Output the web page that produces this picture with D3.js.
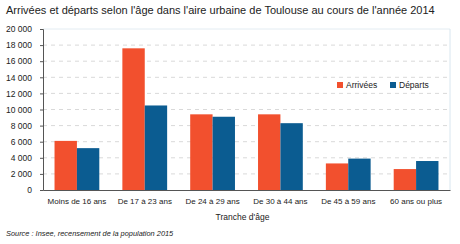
<!DOCTYPE html>
<html>
<head>
<meta charset="utf-8">
<script src="https://cdn.jsdelivr.net/npm/d3@7"></script>
<style>
  body { margin: 0; background: #fff; }
  svg { font-family: "Liberation Sans", Arial, sans-serif; }
</style>
</head>
<body>
<svg id="chart" width="460" height="244"></svg>
<script>
const categories = ["Moins de 16 ans", "De 17 à 23 ans", "De 24 à 29 ans", "De 30 à 44 ans", "De 45 à 59 ans", "60 ans ou plus"];
const arrivees = [6100, 17600, 9400, 9400, 3300, 2600];
const departs = [5200, 10500, 9100, 8300, 3900, 3600];
const series = ["Arrivées", "Départs"];
const colors = ["#f2502e", "#0b5c91"];
const yTicks = [0, 2000, 4000, 6000, 8000, 10000, 12000, 14000, 16000, 18000, 20000];

const margin = { top: 29, right: 10, bottom: 54, left: 43 };
const width = 460 - margin.left - margin.right;
const height = 244 - margin.top - margin.bottom;

const data = categories.map((c, i) => ({ cat: c, values: [arrivees[i], departs[i]] }));

const svgRoot = d3.select("#chart");

// Titre
svgRoot.append("text")
    .attr("x", 6)
    .attr("y", 14)
    .style("font-size", "11px")
    .style("fill", "#222")
    .text("Arrivées et départs selon l'âge dans l'aire urbaine de Toulouse au cours de l'année 2014");

const svg = svgRoot.append("g")
    .attr("transform", `translate(${margin.left}, ${margin.top})`);

const xScale = d3.scaleBand()
    .domain(categories)
    .range([0, width])
    .paddingInner(0.34)
    .paddingOuter(0.17);

const xSub = d3.scaleBand()
    .domain(series)
    .range([0, xScale.bandwidth()]);

const yScale = d3.scaleLinear()
    .domain([0, 20000])
    .range([height, 0]);

const fmt = d => d3.format(",")(d).replace(/,/g, " ");

// cadre
svg.append("line")
    .attr("x1", 0).attr("x2", width)
    .attr("y1", 0).attr("y2", 0)
    .attr("stroke", "#e3ecf2");
svg.append("line")
    .attr("x1", width).attr("x2", width)
    .attr("y1", 0).attr("y2", height)
    .attr("stroke", "#d8e6ef");

// grille
svg.append("g")
    .selectAll("line")
    .data(yTicks.filter(d => d > 0 && d < 20000))
    .enter()
    .append("line")
    .attr("x1", 0).attr("x2", width)
    .attr("y1", d => yScale(d)).attr("y2", d => yScale(d))
    .attr("stroke", "#d9d9d9")
    .attr("stroke-dasharray", "4,4");

// barres
const groups = svg.selectAll(".grp")
    .data(data)
    .enter()
    .append("g")
    .attr("transform", d => `translate(${xScale(d.cat)}, 0)`);

groups.selectAll("rect")
    .data(d => d.values.map((v, i) => ({ key: series[i], value: v, i: i })))
    .enter()
    .append("rect")
    .attr("x", d => xSub(d.key))
    .attr("y", d => yScale(d.value))
    .attr("width", xSub.bandwidth())
    .attr("height", d => height - yScale(d.value))
    .attr("fill", d => colors[d.i]);

// axes
const yAxis = d3.axisLeft(yScale).tickValues(yTicks).tickFormat(fmt).tickSize(3).tickPadding(8);
const gy = svg.append("g").call(yAxis);
gy.select(".domain").attr("stroke", "#555");
gy.selectAll(".tick line").attr("stroke", "#555");
gy.selectAll("text").style("font-size", "8.5px").style("fill", "#222");

const xAxis = d3.axisBottom(xScale).tickSize(0).tickPadding(8);
const gx = svg.append("g")
    .attr("transform", `translate(0, ${height})`)
    .call(xAxis);
gx.select(".domain").attr("stroke", "#555");
gx.selectAll("text").style("font-size", "8px").style("fill", "#222");

// titre de l'axe
svg.append("text")
    .attr("x", width / 2 - 4)
    .attr("y", height + 30)
    .style("text-anchor", "middle")
    .style("font-size", "8.5px")
    .style("fill", "#222")
    .text("Tranche d'âge");

// légende
const legend = svg.append("g")
    .attr("transform", "translate(294, 53)");
series.forEach((s, i) => {
    const g = legend.append("g").attr("transform", `translate(${i * 53}, 0)`);
    g.append("rect").attr("x", 0).attr("y", 0).attr("width", 6).attr("height", 6).attr("fill", colors[i]);
    g.append("text").attr("x", 9).attr("y", 6).style("font-size", "8.5px").style("fill", "#222").text(s);
});

// source
svgRoot.append("text")
    .attr("x", 6)
    .attr("y", 236)
    .style("font-size", "7.4px")
    .style("font-style", "italic")
    .style("fill", "#222")
    .text("Source : Insee, recensement de la population 2015");
</script>
</body>
</html>
